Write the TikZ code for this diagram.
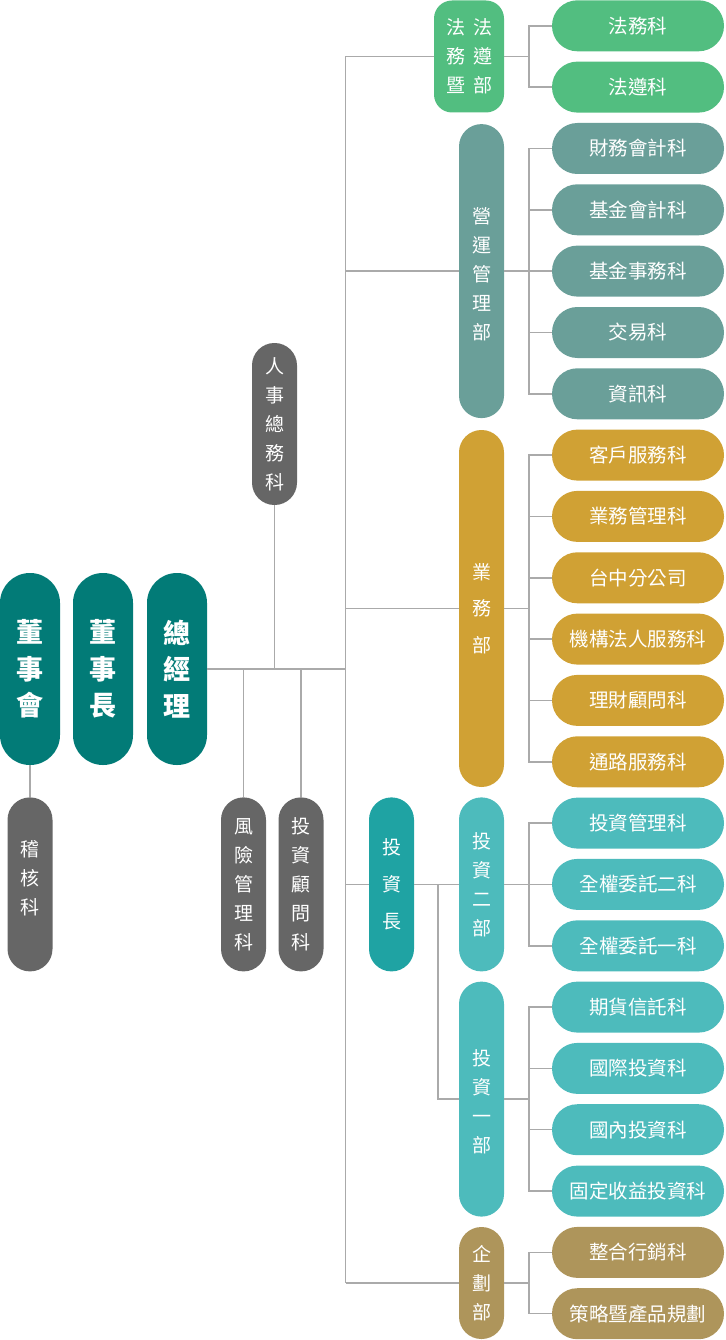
\documentclass[tikz,border=0pt]{standalone}
\usepackage{fontspec}
\usepackage{tikz}
\newfontfamily\cjk{Noto Sans CJK TC}
\definecolor{cteal}{RGB}{2,123,119}
\definecolor{cgray}{RGB}{102,102,102}
\definecolor{cgreen}{RGB}{82,190,128}
\definecolor{cslate}{RGB}{106,159,153}
\definecolor{cgold}{RGB}{208,161,52}
\definecolor{cdeep}{RGB}{31,163,163}
\definecolor{caqua}{RGB}{77,187,188}
\definecolor{cbrown}{RGB}{174,149,91}
\definecolor{cline}{RGB}{170,170,170}

\begin{document}
\begin{tikzpicture}[x=1pt,y=1pt,yscale=-1,xscale=1,
  kebox/.style={rounded corners=25.4, minimum width=172, minimum height=51, inner sep=0, text=white, font=\cjk\fontsize{19.5}{23}\selectfont},
  bubox/.style={rounded corners=22.4, minimum width=45, inner sep=0, text=white, align=center, font=\cjk\fontsize{19}{29}\selectfont},
  leadbox/.style={rounded corners=29.9, minimum width=60, minimum height=192, inner sep=0, text=white, fill=cteal, align=center, font=\cjk\bfseries\fontsize{27}{36.5}\selectfont},
  link/.style={draw=cline, line width=1.5}]
\useasboundingbox (0,0) rectangle (725,1340);

% Lead Nodes
\node [leadbox] (dsh) at (30,669) {董\\事\\會};
\node [leadbox] (dsz) at (103,669) {董\\事\\長};
\node [leadbox] (zjl) at (177,669) {總\\經\\理};

% Staff Nodes
\node [bubox, fill=cgray, minimum height=174] (jhk) at (30,884.4) {稽\\核\\科\rule[-14pt]{0pt}{0pt}};
\node [bubox, fill=cgray, minimum height=162] (rs) at (274.5,424) {人\\事\\總\\務\\科};
\node [bubox, fill=cgray, minimum height=174] (fx) at (243.5,884.4) {風\\險\\管\\理\\科};
\node [bubox, fill=cgray, minimum height=174] (tg) at (301,884.4) {投\\資\\顧\\問\\科};

% Department Nodes
\node [bubox, fill=cgreen, minimum width=70, minimum height=112, rounded corners=18] (fawu) at (469,56.5) {法\hspace{8pt}法\\務\hspace{8pt}遵\\暨\hspace{8pt}部};
\node [bubox, fill=cslate, minimum height=294] (yy) at (481.5,271.1) {\rule{0pt}{22pt}營\\運\\管\\理\\部};
\node [bubox, fill=cgold, minimum height=357, font=\cjk\fontsize{19}{36.5}\selectfont] (yw) at (481.5,608.5) {業\\務\\部};
\node [bubox, fill=cdeep, minimum height=174, font=\cjk\fontsize{19}{37}\selectfont] (tzz) at (391.5,884.4) {投\\資\\長};
\node [bubox, fill=caqua, minimum height=174] (tz2) at (481.5,884.4) {投\\資\\二\\部};
\node [bubox, fill=caqua, minimum height=235] (tz1) at (481.5,1099.1) {\rule{0pt}{22pt}投\\資\\一\\部};
\node [bubox, fill=cbrown, minimum height=112] (qh) at (481.5,1283) {企\\劃\\部};

% Section Nodes
\node [kebox, fill=cgreen] (fwk) at (638,25.8) {法務科};
\node [kebox, fill=cgreen] (fzk) at (638,87.1) {法遵科};
\node [kebox, fill=cslate] (cwk) at (638,148.5) {財務會計科};
\node [kebox, fill=cslate] (jjk) at (638,209.8) {基金會計科};
\node [kebox, fill=cslate] (jsk) at (638,271.1) {基金事務科};
\node [kebox, fill=cslate] (jyk) at (638,332.5) {交易科};
\node [kebox, fill=cslate] (zxk) at (638,393.8) {資訊科};
\node [kebox, fill=cgold] (khk) at (638,455.1) {客戶服務科};
\node [kebox, fill=cgold] (ywk) at (638,516.4) {業務管理科};
\node [kebox, fill=cgold] (tzk) at (638,577.8) {台中分公司};
\node [kebox, fill=cgold] (jgk) at (638,639.1) {機構法人服務科};
\node [kebox, fill=cgold] (lck) at (638,700.4) {理財顧問科};
\node [kebox, fill=cgold] (tlk) at (638,761.8) {通路服務科};
\node [kebox, fill=caqua] (tgk) at (638,823.1) {投資管理科};
\node [kebox, fill=caqua] (qek) at (638,884.4) {全權委託二科};
\node [kebox, fill=caqua] (qyk) at (638,945.8) {全權委託一科};
\node [kebox, fill=caqua] (qhk) at (638,1007.1) {期貨信託科};
\node [kebox, fill=caqua] (gjk) at (638,1068.4) {國際投資科};
\node [kebox, fill=caqua] (gnk) at (638,1129.7) {國內投資科};
\node [kebox, fill=caqua] (gdk) at (638,1191.1) {固定收益投資科};
\node [kebox, fill=cbrown] (zhk) at (638,1252.4) {整合行銷科};
\node [kebox, fill=cbrown] (clk) at (638,1313.7) {策略暨產品規劃};

% Straight Lines
\coordinate (trunk) at (345.7,669);
\coordinate (tzbus) at (438,884.4);
\draw [link] (dsh.south) -- (jhk.north);
\draw [link] (zjl.east) -- (trunk);
\draw [link] (rs.south) -- (rs.south |- zjl.east);
\draw [link] (fx.north) -- (fx.north |- zjl.east);
\draw [link] (tg.north) -- (tg.north |- zjl.east);
\draw [link] (trunk |- fawu.west) -- (trunk |- qh.west);
\draw [link] (trunk |- fawu.west) -- (fawu.west);
\draw [link] (trunk |- yy.west) -- (yy.west);
\draw [link] (trunk |- yw.west) -- (yw.west);
\draw [link] (trunk |- tzz.west) -- (tzz.west);
\draw [link] (trunk |- qh.west) -- (qh.west);
\draw [link] (tzz.east) -- (tz2.west);
\draw [link] (tzbus) |- (tz1.west);

% Elbow Lines
\draw [link] (fawu.east) -- ++(25,0) |- (fwk.west);
\draw [link] (fawu.east) -- ++(25,0) |- (fzk.west);
\draw [link] (yy.east) -- ++(25,0) |- (cwk.west);
\draw [link] (yy.east) -- ++(25,0) |- (jjk.west);
\draw [link] (yy.east) -- ++(25,0) |- (jsk.west);
\draw [link] (yy.east) -- ++(25,0) |- (jyk.west);
\draw [link] (yy.east) -- ++(25,0) |- (zxk.west);
\draw [link] (yw.east) -- ++(25,0) |- (khk.west);
\draw [link] (yw.east) -- ++(25,0) |- (ywk.west);
\draw [link] (yw.east) -- ++(25,0) |- (tzk.west);
\draw [link] (yw.east) -- ++(25,0) |- (jgk.west);
\draw [link] (yw.east) -- ++(25,0) |- (lck.west);
\draw [link] (yw.east) -- ++(25,0) |- (tlk.west);
\draw [link] (tz2.east) -- ++(25,0) |- (tgk.west);
\draw [link] (tz2.east) -- ++(25,0) |- (qek.west);
\draw [link] (tz2.east) -- ++(25,0) |- (qyk.west);
\draw [link] (tz1.east) -- ++(25,0) |- (qhk.west);
\draw [link] (tz1.east) -- ++(25,0) |- (gjk.west);
\draw [link] (tz1.east) -- ++(25,0) |- (gnk.west);
\draw [link] (tz1.east) -- ++(25,0) |- (gdk.west);
\draw [link] (qh.east) -- ++(25,0) |- (zhk.west);
\draw [link] (qh.east) -- ++(25,0) |- (clk.west);

\end{tikzpicture}
\end{document}
